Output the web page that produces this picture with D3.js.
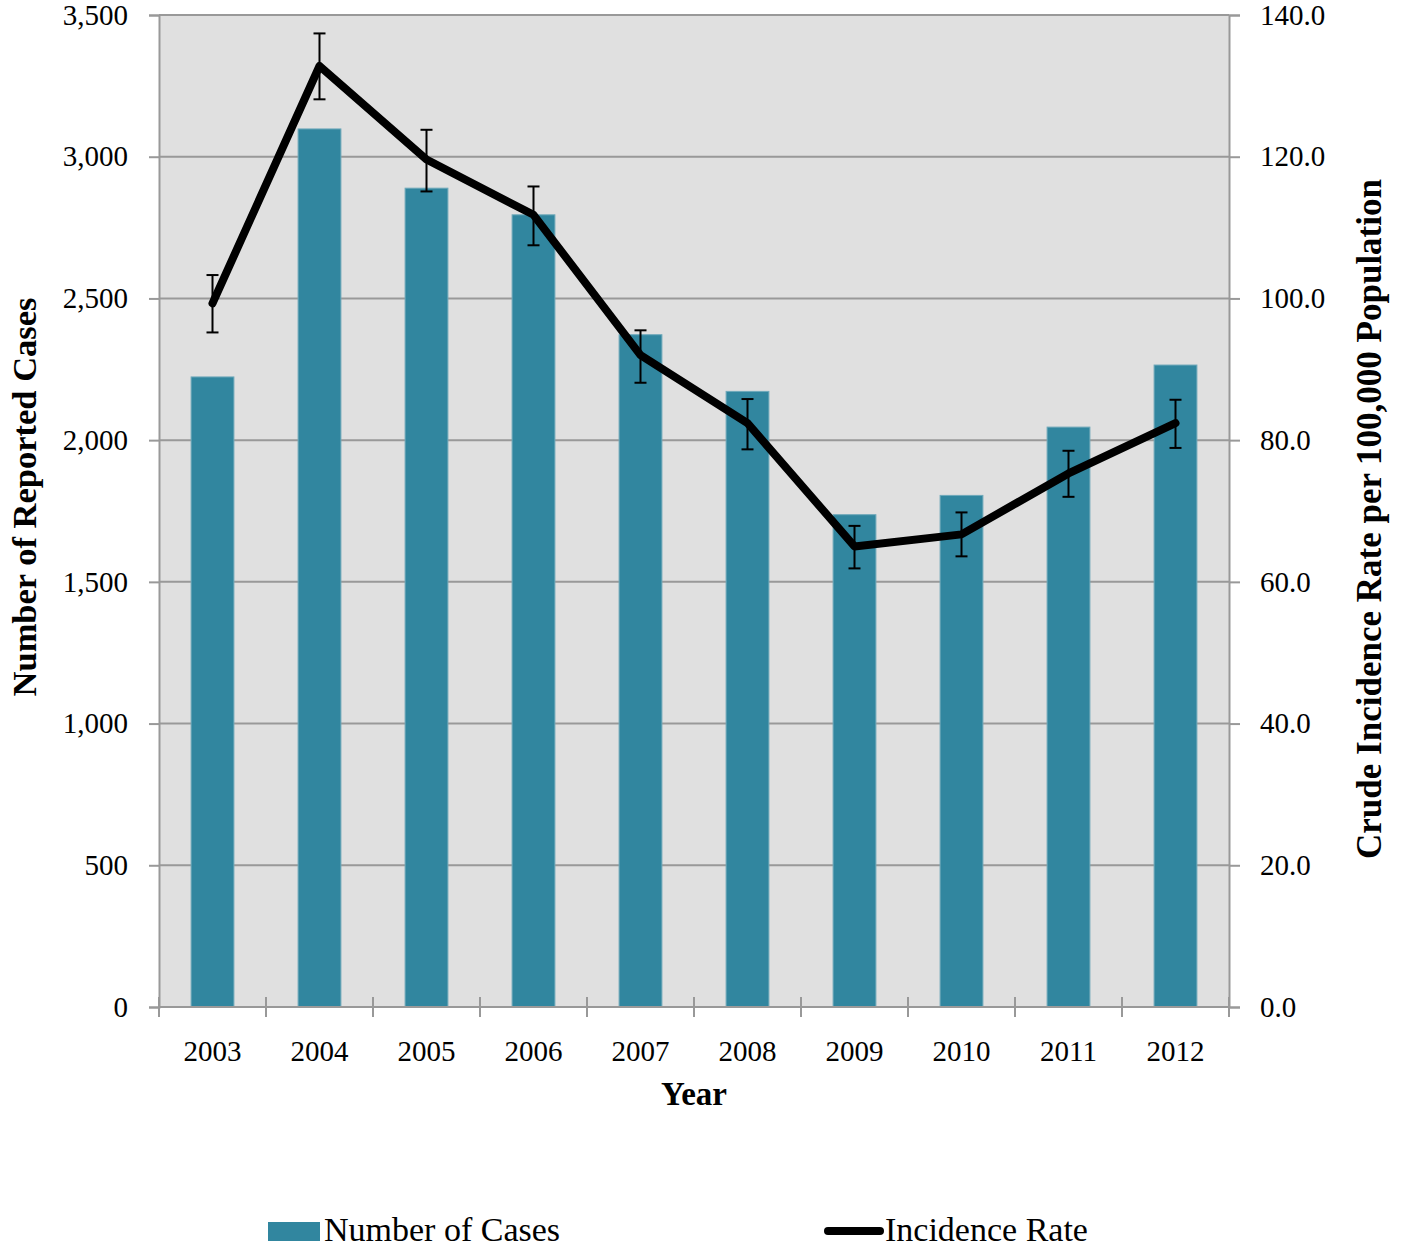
<!DOCTYPE html>
<html>
<head>
<meta charset="utf-8">
<script src="https://cdn.jsdelivr.net/npm/d3@7"></script>
<style>
  body { margin: 0; background: #fff; }
  svg { display: block; font-family: "Liberation Serif", serif; }
  .axis path, .axis line { stroke: #999; stroke-width: 2; }
  .axis text { fill: #000; font-size: 29px; font-family: "Liberation Serif", serif; }
</style>
</head>
<body>
<svg id="chart" width="1404" height="1247"></svg>
<script>
var years = ["2003", "2004", "2005", "2006", "2007", "2008", "2009", "2010", "2011", "2012"];
var cases = [2223, 3098, 2889, 2795, 2372, 2172, 1737, 1805, 2046, 2265];
var rates = [99.3, 132.8, 119.6, 111.8, 92.0, 82.4, 65.0, 66.7, 75.3, 82.4];
var rateLow = [95.2, 128.1, 115.1, 107.5, 88.1, 78.7, 61.9, 63.6, 72.0, 78.9];
var rateHigh = [103.3, 137.4, 123.8, 115.8, 95.5, 85.8, 67.9, 69.8, 78.5, 85.7];
var caseTicks = [0, 500, 1000, 1500, 2000, 2500, 3000, 3500];
var rateTicks = [0, 20, 40, 60, 80, 100, 120, 140];

var margin = { left: 159, right: 1229, top: 15, bottom: 1007 };
var svg = d3.select("#chart");

var x = d3.scaleBand().domain(years).range([margin.left, margin.right]).padding(0);
var yL = d3.scaleLinear().domain([0, 3500]).range([margin.bottom, margin.top]);
var yR = d3.scaleLinear().domain([0, 140]).range([margin.bottom, margin.top]);

// plot background
svg.append("rect")
    .attr("x", margin.left)
    .attr("y", margin.top)
    .attr("width", margin.right - margin.left)
    .attr("height", margin.bottom - margin.top)
    .attr("fill", "#e0e0e0");

// gridlines
svg.append("g").selectAll("line")
    .data(caseTicks.slice(1))
    .enter().append("line")
    .attr("x1", margin.left)
    .attr("x2", margin.right)
    .attr("y1", function(d) { return yL(d); })
    .attr("y2", function(d) { return yL(d); })
    .attr("stroke", "#999")
    .attr("stroke-width", 2);

// bars
var barW = x.bandwidth() * 0.4;
svg.append("g").selectAll("rect")
    .data(years)
    .enter().append("rect")
    .attr("x", function(d) { return x(d) + x.bandwidth() / 2 - barW / 2; })
    .attr("y", function(d, i) { return yL(cases[i]); })
    .attr("width", barW)
    .attr("height", function(d, i) { return yL(0) - yL(cases[i]); })
    .attr("fill", "#31869f")
    .attr("stroke", "#6fa9ba")
    .attr("stroke-width", 1);

// left axis
svg.append("g")
    .attr("class", "axis")
    .attr("transform", "translate(" + margin.left + ",0)")
    .call(d3.axisLeft(yL).tickValues(caseTicks).tickFormat(d3.format(",")).tickSize(10).tickPadding(21));

// right axis
svg.append("g")
    .attr("class", "axis")
    .attr("transform", "translate(" + margin.right + ",0)")
    .call(d3.axisRight(yR).tickValues(rateTicks).tickFormat(d3.format(".1f")).tickSize(11).tickPadding(20))
    .selectAll("text").attr("font-size", 30);

// bottom axis
var bottomAxis = svg.append("g")
    .attr("class", "axis")
    .attr("transform", "translate(0," + margin.bottom + ")")
    .call(d3.axisBottom(x).tickSize(0).tickPadding(33));
bottomAxis.select(".domain").attr("d", "M" + margin.left + ",0H" + margin.right);
bottomAxis.selectAll("text").attr("font-size", 31);

// bottom ticks at band boundaries
var bounds = years.map(function(d) { return x(d); }).concat([margin.right]);
svg.append("g").selectAll("line")
    .data(bounds)
    .enter().append("line")
    .attr("x1", function(d) { return d; })
    .attr("x2", function(d) { return d; })
    .attr("y1", margin.bottom - 10)
    .attr("y2", margin.bottom + 10)
    .attr("stroke", "#999")
    .attr("stroke-width", 2);

// incidence line
var line = d3.line()
    .x(function(d, i) { return x(years[i]) + x.bandwidth() / 2; })
    .y(function(d) { return yR(d); });

svg.append("path")
    .attr("d", line(rates))
    .attr("fill", "none")
    .attr("stroke", "#000")
    .attr("stroke-width", 8)
    .attr("stroke-linejoin", "round")
    .attr("stroke-linecap", "round");

// error bars
var errG = svg.append("g").attr("stroke", "#000").attr("stroke-width", 2);
years.forEach(function(d, i) {
    var cx = x(d) + x.bandwidth() / 2;
    errG.append("line")
        .attr("x1", cx).attr("x2", cx)
        .attr("y1", yR(rateLow[i])).attr("y2", yR(rateHigh[i]));
    errG.append("line")
        .attr("x1", cx - 6).attr("x2", cx + 6)
        .attr("y1", yR(rateLow[i])).attr("y2", yR(rateLow[i]));
    errG.append("line")
        .attr("x1", cx - 6).attr("x2", cx + 6)
        .attr("y1", yR(rateHigh[i])).attr("y2", yR(rateHigh[i]));
});

// axis titles
svg.append("text")
    .attr("x", (margin.left + margin.right) / 2)
    .attr("y", 1105)
    .attr("text-anchor", "middle")
    .attr("font-size", 33)
    .attr("font-weight", "bold")
    .text("Year");

svg.append("text")
    .attr("transform", "translate(36," + 497 + ") rotate(-90)")
    .attr("text-anchor", "middle")
    .attr("font-size", 34.5)
    .attr("font-weight", "bold")
    .text("Number of Reported Cases");

svg.append("text")
    .attr("transform", "translate(1381," + 519 + ") rotate(-90)")
    .attr("text-anchor", "middle")
    .attr("font-size", 35)
    .attr("font-weight", "bold")
    .text("Crude Incidence Rate per 100,000 Population");

// legend
var legend = svg.append("g").attr("font-size", 34);
legend.append("rect")
    .attr("x", 268).attr("y", 1222)
    .attr("width", 52).attr("height", 19)
    .attr("fill", "#31869f");
legend.append("text")
    .attr("x", 324).attr("y", 1241)
    .text("Number of Cases");
legend.append("line")
    .attr("x1", 828).attr("x2", 880)
    .attr("y1", 1231).attr("y2", 1231)
    .attr("stroke", "#000")
    .attr("stroke-width", 8)
    .attr("stroke-linecap", "round");
legend.append("text")
    .attr("x", 885).attr("y", 1241)
    .text("Incidence Rate");
</script>
</body>
</html>
